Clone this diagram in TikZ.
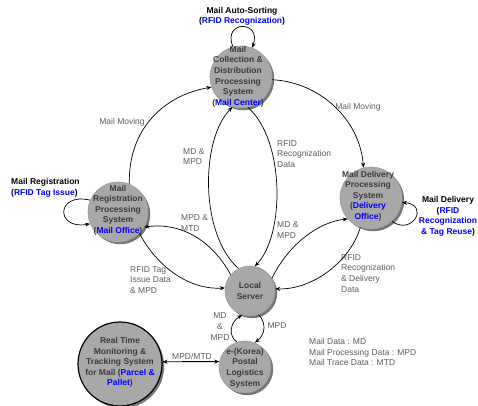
\documentclass[tikz,border=0pt]{standalone}
\usepackage{fontspec}
\setmainfont{Liberation Sans}
\usetikzlibrary{arrows.meta,shadows}
\definecolor{nodefill}{HTML}{A8A8A8}
\definecolor{nodeedge}{HTML}{9C9C9C}
\definecolor{nodeshadow}{HTML}{767676}
\definecolor{ntextc}{HTML}{3C3C3C}
\definecolor{labc}{HTML}{5E5E5E}
\definecolor{blu}{HTML}{0000FF}
\begin{document}
\begin{tikzpicture}[x=1pt,y=-1pt,
 proc/.style={circle,fill=nodefill,draw=nodeedge,line width=0.6pt,inner sep=0pt,minimum size=#1,
   drop shadow={shadow xshift=2.2pt,shadow yshift=-2.2pt,fill=nodeshadow,opacity=1}},
 ntext/.style={align=center,font=\fontsize{8.5}{10.6}\selectfont\bfseries,text=ntextc,inner sep=0pt},
 elab/.style={align=left,font=\fontsize{8.5}{10.8}\selectfont,text=labc,inner sep=0pt,anchor=west},
 clab/.style={align=center,font=\fontsize{8.5}{10.8}\selectfont,text=labc,inner sep=0pt},
 tlab/.style={align=center,font=\fontsize{8.5}{10.6}\selectfont\bfseries,text=black,inner sep=0pt},
 arr/.style={-{Stealth[length=5pt,width=4pt]},line width=0.7pt},
 darr/.style={{Stealth[length=5pt,width=4pt]}-{Stealth[length=5pt,width=4pt]},line width=0.9pt},
]
\path[use as bounding box,fill=white] (0,0) rectangle (478,405);

% circles
\node[proc=62pt] (mc) at (241,77) {};
\node[proc=60pt] (mo) at (118,212) {};
\node[proc=62pt] (do) at (371,198) {};
\node[proc=50pt] (ls) at (250,291) {};
\node[proc=52pt] (ek) at (245,367) {};
\node[proc=84pt,draw=black,line width=1.2pt] (rt) at (120,364) {};

% node texts
\node[ntext] (mct) at (238,76.5) {Mail\\Collection \&\\Distribution\\Processing\\System\\(\textcolor{blu}{Mail Center})};
\node[ntext] (mot) at (118,210) {Mail\\Registration\\Processing\\System\\(\textcolor{blu}{Mail Office})};
\node[ntext] (dot) at (368,196) {Mail Delivery\\Processing\\System\\(\textcolor{blu}{Delivery}\\\textcolor{blu}{Office})};
\node[ntext] (lst) at (250,291) {Local\\Server};
\node[ntext] (ekt) at (245,368) {e-(Korea)\\Postal\\Logistics\\System};
\node[ntext] (rtt) at (120,362.5) {Real Time\\Monitoring \&\\Tracking System\\for Mail (\textcolor{blu}{Parcel \&}\\\textcolor{blu}{Pallet})};

% activity labels
\node[tlab] (las) at (242,16.5) {Mail Auto-Sorting\\(\textcolor{blu}{RFID Recognization})};
\node[tlab,align=left,anchor=west] (lmr) at (11,188) {Mail Registration\\(\textcolor{blu}{RFID Tag Issue})};
\node[tlab] (lmd) at (448,216.5) {Mail Delivery\\(\textcolor{blu}{RFID}\\\textcolor{blu}{Recognization}\\\textcolor{blu}{\& Tag Reuse})};

% edge labels
\node[clab] (l1) at (122,122) {Mail Moving};
\node[clab] (l2) at (358,107) {Mail Moving};
\node[elab] (l3) at (183,156.5) {MD \&\\MPD};
\node[elab] (l4) at (277,154) {RFID\\Recognization\\Data};
\node[elab] (l5) at (181,223) {MPD \&\\MTD};
\node[elab] (l6) at (277,230) {MD \&\\MPD};
\node[elab] (l7) at (130,280) {RFID Tag\\Issue Data\\\& MPD};
\node[elab] (l8) at (341,273.5) {RFID\\Recognization\\\& Delivery\\Data};
\node[clab] (l9) at (220,326.5) {MD\\\&\\MPD};
\node[clab] (l10) at (277,326) {MPD};
\node[clab] (l11) at (192,356) {MPD/MTD};
\node[elab] (leg) at (309,352) {Mail Data : MD\\Mail Processing Data : MPD\\Mail Trace Data : MTD};

% connectors
\draw[arr] (mo.68) .. controls (128,128) and (165,95) .. (mc.199);
\draw[arr] (mc.355) .. controls (320,82) and (360,120) .. (do.104);
\draw[arr] (ls.117) .. controls (200,235) and (200,140) .. (mc.254);
\draw[arr] (mc.283) .. controls (285,140) and (285,235) .. (ls.79);
\draw[arr] (ls.140) .. controls (212,240) and (180,222) .. (mo.330);
\draw[arr] (mo.315) .. controls (158,268) and (190,290) .. (ls.173);
\draw[arr] (ls.30) .. controls (288,245) and (318,222) .. (do.222);
\draw[arr] (do.250) .. controls (350,262) and (312,290) .. (ls.5);
\draw[arr] (ek.108) .. controls (228,336) and (230,322) .. (ls.252);
\draw[arr] (ls.290) .. controls (266,322) and (266,334) .. (ek.68);
\draw[darr] (rt.3) -- (ek.168);

% self loops
\draw[arr] (mc.105) .. controls (222,20) and (262,20) .. (mc.69);
\draw[arr] (mo.157) .. controls (56,192) and (55,230) .. (mo.203);
\draw[arr] (do.312) .. controls (412,236) and (430,205) .. (do.352);
\end{tikzpicture}
\end{document}
